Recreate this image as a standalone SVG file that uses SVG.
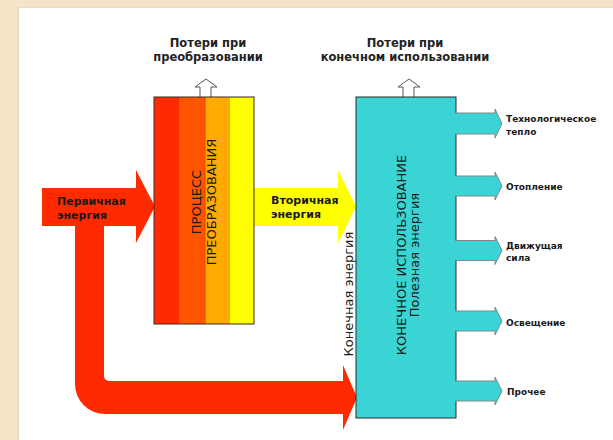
<svg xmlns="http://www.w3.org/2000/svg" width="613" height="440" viewBox="0 0 613 440">
<style>
.t{font-family:"DejaVu Sans",Verdana,sans-serif;fill:#1a1a1a}
.b{font-weight:bold}
.title{font-size:11.5px;font-weight:bold;fill:#222;text-anchor:middle}
.lbl{font-size:11px}
.out{font-size:9px}
.rot{font-size:13px}
.cy{fill:#3ad4d4}
.outarrow{fill:#3ad4d4;stroke:#7a8a8a;stroke-width:1}
.hollow{fill:#fff;stroke:#555;stroke-width:1}
</style>
<rect x="0" y="0" width="613" height="440" fill="#f6e4c8"/>
<rect x="17" y="7" width="596" height="433" fill="#e9dcc6"/>
<rect x="19" y="8" width="594" height="432" fill="#ffffff"/>

<g id="titles">
<text class="t title" x="208" y="47">Потери при</text>
<text class="t title" x="208" y="61">преобразовании</text>
<text class="t title" x="405" y="47">Потери при</text>
<text class="t title" x="405" y="61">конечном использовании</text>
</g>

<g id="connectors">
<path id="loss1" class="hollow" d="M200,97 V87 H195 L206,79 L217,87 H211 V97"/>
<path id="loss2" class="hollow" d="M403,97 V87 H398 L409,79 L420,87 H414 V97"/>
<path id="primary" fill="#ff2a00" d="M42,188 H136 V170 L155,206.5 L136,243 V226 H104 V376 A5,5 0 0 0 109,381 H343 V365 L357,397.5 L343,430 V414 H105 A30,30 0 0 1 75,384 V226 H42 Z"/>
<path id="secondary" fill="#ffff00" d="M254,188 H338 V170 L356,206.5 L338,243 V226 H254 Z"/>
</g>

<g id="process">
<rect x="154" y="97" width="25" height="227" fill="#ff2a00"/>
<rect x="179" y="97" width="26" height="227" fill="#ff5500"/>
<rect x="205" y="97" width="25" height="227" fill="#ffaa00"/>
<rect x="230" y="97" width="24" height="227" fill="#ffff00"/>
<line x1="205" y1="97" x2="205" y2="324" stroke="#ff3a00" stroke-width="1"/>
<rect x="154" y="97" width="100" height="227" fill="none" stroke="#3a2a20" stroke-width="1"/>
<text class="t rot" transform="translate(201,202) rotate(-90)" text-anchor="middle">ПРОЦЕСС</text>
<text class="t rot" transform="translate(215.5,202) rotate(-90)" text-anchor="middle">ПРЕОБРАЗОВАНИЯ</text>
</g>

<g id="enduse">
<rect x="356" y="97" width="100" height="321" class="cy" stroke="#2a2a2a" stroke-width="1"/>
<path class="outarrow" d="M455,113 H495 V109 L502,123.5 L495,138 V134 H455"/>
<path class="outarrow" d="M455,176 H495 V172 L502,186 L495,200 V196 H455"/>
<path class="outarrow" d="M455,240.5 H495 V236.5 L502,250.5 L495,264.5 V260.5 H455"/>
<path class="outarrow" d="M455,311 H495 V307 L502,321 L495,335 V331 H455"/>
<path class="outarrow" d="M455,381 H495 V377 L502,391 L495,405 V401 H455"/>
<text class="t rot" transform="translate(406,255) rotate(-90)" text-anchor="middle">КОНЕЧНОЕ ИСПОЛЬЗОВАНИЕ</text>
<text class="t rot" transform="translate(419,255) rotate(-90)" text-anchor="middle">Полезная энергия</text>
</g>

<g id="labels">
<text class="t b lbl" x="57" y="205">Первичная</text>
<text class="t b lbl" x="57" y="219">энергия</text>
<text class="t b lbl" x="271" y="204">Вторичная</text>
<text class="t b lbl" x="271" y="218">энергия</text>
<text class="t rot" transform="translate(352.5,294) rotate(-90)" text-anchor="middle">Конечная энергия</text>
<text class="t b out" x="506" y="122">Технологическое</text>
<text class="t b out" x="506" y="135">тепло</text>
<text class="t b out" x="506" y="190">Отопление</text>
<text class="t b out" x="506" y="249">Движущая</text>
<text class="t b out" x="506" y="261">сила</text>
<text class="t b out" x="506" y="326">Освещение</text>
<text class="t b out" x="507" y="395">Прочее</text>
</g>
</svg>
